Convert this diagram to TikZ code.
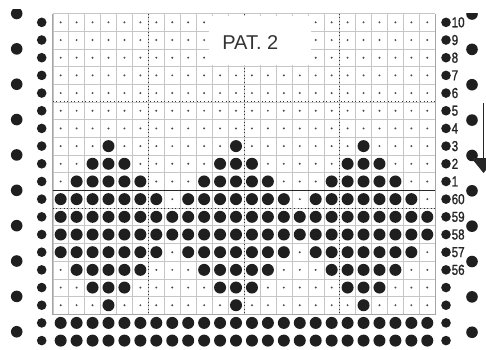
\documentclass[tikz,border=0pt]{standalone}
\usepackage{fontspec}
\usetikzlibrary{arrows.meta}
\newfontfamily\cardfont{Liberation Sans}
\newfontfamily\rowfont[FakeStretch=0.8,FakeBold=1.2]{Liberation Sans}

\begin{document}
\begin{tikzpicture}[
		x=1pt, y=-1pt,
		gridline/.style={gray!45,line width=0.35pt},
		foldline/.style={black!80,line width=0.9pt,dash pattern=on 0.9pt off 2.7pt},
		cardframe/.style={gray!70,line width=0.6pt},
		bighole/.style={black!88},
		pindot/.style={black!70},
		rowlabel/.style={font=\rowfont\fontsize{14.5}{14.5}\selectfont,anchor=west,inner sep=0pt,black!85},
	]
	\useasboundingbox (0,0) rectangle (486,349);

	% ---------- grid of the card ----------
	\foreach \j in {0,...,24}
		\draw[gridline] ({52.7+15.94*\j},13.5) -- ({52.7+15.94*\j},314.1);
	\foreach \k in {0,...,17}
		\draw[gridline] (52.7,{13.5+17.68*\k}) -- (435.3,{13.5+17.68*\k});
	\foreach \j in {6,12,18}
		\draw[foldline] ({52.7+15.94*\j},13.5) -- ({52.7+15.94*\j},314.1);
	\foreach \k in {5,11}
		\draw[foldline] (52.7,{13.5+17.68*\k}) -- (435.3,{13.5+17.68*\k});
	\draw[black!85,line width=0.8pt] (52.7,190.3) -- (435.3,190.3);
	\draw[cardframe] (52.7,13.5) -- (52.7,314.1) -- (435.3,314.1) -- (435.3,13.5);

	% ---------- punched pattern ----------
	\foreach \r in {0,...,6}
		\foreach \c in {0,...,23}
			\fill[pindot] ({60.67+15.94*\c},{22.34+17.68*\r}) circle (1.1pt);
	\foreach \r/\w in {7/0,8/1,9/2,10/3,11/4,12/4,13/3,14/2,15/1,16/0}
		\foreach \c in {0,...,23} {
			\pgfmathtruncatemacro\d{abs(mod(\c,8)-3)}
			\ifnum\d>\w
				\fill[pindot] ({60.67+15.94*\c},{22.34+17.68*\r}) circle (1.1pt);
			\else
				\fill[bighole] ({60.67+15.94*\c},{22.34+17.68*\r}) circle (6pt);
			\fi
		}
	\foreach \r in {17,18}
		\foreach \c in {0,...,23}
			\fill[bighole] ({60.67+15.94*\c},{22.34+17.68*\r}) circle (6pt);

	% ---------- title ----------
	\fill[white] (209,15.5) rectangle (310.5,64.5);
	\node[font=\cardfont\fontsize{20}{20}\selectfont,black!80] (pattitle) at (250.3,42.2) {PAT.~2};

	% ---------- sprocket and feed holes ----------
	\foreach \r in {0,...,18} {
		\fill[bighole] (41.7,{22.34+17.68*\r}) circle (4.8pt);
		\fill[bighole] (446,{22.34+17.68*\r}) circle (4.8pt);
	}
	\begin{scope}
		\clip (0,9.5) rectangle (486,349);
		\foreach \k in {0,...,9}
			\fill[bighole] (16.7,{13.5+35.36*\k}) circle (5.8pt);
	\end{scope}
	\begin{scope}
		\clip (0,13.5) rectangle (486,349);
		\foreach \k in {0,...,9}
			\fill[bighole] (472,{14+35.36*\k}) circle (5.8pt);
	\end{scope}

	% ---------- row numbers ----------
	\foreach \l [count=\r from 0] in {10,9,8,7,6,5,4,3,2,1,60,59,58,57,56}
		\node[rowlabel] (row\l) at (451.5,{22.34+17.68*\r}) {\l};

	% ---------- feed direction ----------
	\coordinate (feedtop) at (483.5,103);
	\coordinate (feedtip) at (483.5,173);
	\draw[black!85,line width=1pt,-{Triangle[length=15pt,width=24pt]}] (feedtop) -- (feedtip);

\end{tikzpicture}
\end{document}
